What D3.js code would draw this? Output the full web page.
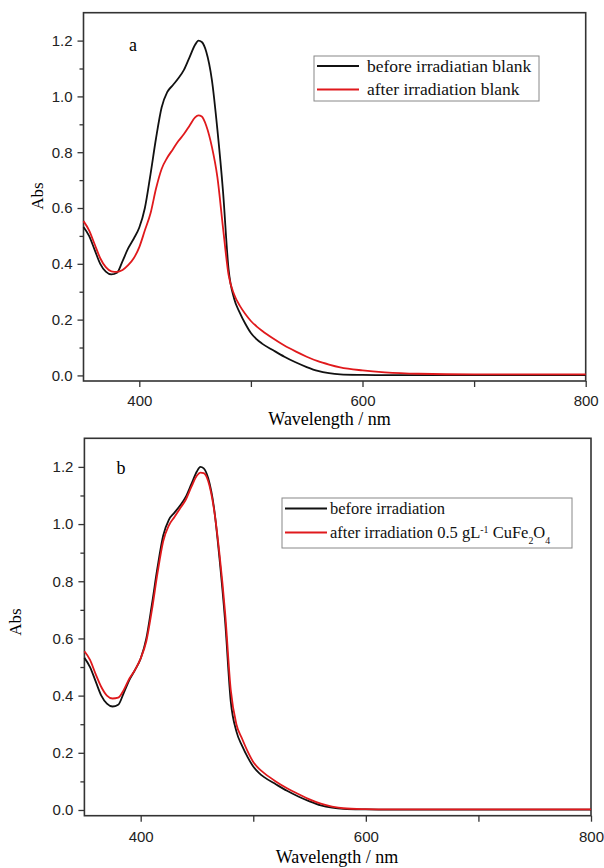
<!DOCTYPE html>
<html>
<head>
<meta charset="utf-8">
<script src="https://cdn.jsdelivr.net/npm/d3@7"></script>
<style>
  body { margin: 0; background: #fff; }
  svg { display: block; }
</style>
</head>
<body>
<svg id="chart" width="604" height="868"></svg>
<script>
// wavelength grid (nm) and absorbance
const wavelength = [350, 355, 360, 365, 370, 375, 380, 385, 390, 395, 400, 405, 410, 415, 420, 425, 430, 435, 440, 445, 450, 453, 456, 460, 465, 470, 475, 480, 485, 490, 495, 500, 505, 510, 520, 530, 540, 550, 560, 570, 580, 600, 620, 650, 700, 800];

const absBefore = [0.532, 0.50, 0.45, 0.40, 0.372, 0.362, 0.368, 0.41, 0.455, 0.49, 0.53, 0.60, 0.72, 0.85, 0.96, 1.015, 1.04, 1.065, 1.095, 1.14, 1.185, 1.20, 1.195, 1.16, 1.06, 0.88, 0.66, 0.38, 0.275, 0.225, 0.185, 0.152, 0.13, 0.114, 0.09, 0.067, 0.047, 0.03, 0.016, 0.008, 0.004, 0.002, 0.001, 0.001, 0.001, 0.001];

const absAfterBlank = [0.553, 0.52, 0.47, 0.42, 0.388, 0.373, 0.371, 0.378, 0.395, 0.42, 0.46, 0.52, 0.58, 0.67, 0.74, 0.78, 0.81, 0.84, 0.865, 0.895, 0.925, 0.932, 0.928, 0.895, 0.82, 0.71, 0.53, 0.36, 0.29, 0.25, 0.22, 0.195, 0.176, 0.16, 0.132, 0.107, 0.086, 0.067, 0.051, 0.039, 0.029, 0.018, 0.011, 0.006, 0.004, 0.004];

const absAfterCat = [0.555, 0.525, 0.475, 0.43, 0.40, 0.39, 0.393, 0.42, 0.46, 0.49, 0.53, 0.59, 0.70, 0.83, 0.94, 0.995, 1.025, 1.055, 1.085, 1.13, 1.17, 1.18, 1.178, 1.15, 1.055, 0.895, 0.69, 0.42, 0.30, 0.25, 0.205, 0.168, 0.145, 0.128, 0.10, 0.076, 0.056, 0.037, 0.022, 0.012, 0.006, 0.003, 0.002, 0.002, 0.002, 0.002];

const xMajor = [400, 600, 800];
const xMinor = [500, 700];
const yMajor = [0, 0.2, 0.4, 0.6, 0.8, 1.0, 1.2];
const yMinor = [0.1, 0.3, 0.5, 0.7, 0.9, 1.1];

const svg = d3.select("#chart");
const serif = "'Liberation Serif', 'Times New Roman', serif";
const sans = "'Liberation Sans', Arial, sans-serif";
const black = "#111";
const red = "#e0191c";

function panel(p) {
  const x = d3.scaleLinear().domain([350, 800]).range([p.left, p.right]);
  const y = d3.scaleLinear().domain([-0.02, 1.3]).range([p.bottom, p.top]);

  const g = svg.append("g");

  // minor ticks first, then major ones with labels
  g.append("g")
    .attr("transform", `translate(0,${p.bottom})`)
    .call(d3.axisBottom(x).tickValues(xMinor).tickSize(6).tickFormat(""));
  g.append("g")
    .attr("transform", `translate(0,${p.bottom})`)
    .call(d3.axisBottom(x).tickValues(xMajor).tickSize(6).tickPadding(p.xPad).tickFormat(d3.format("d")));
  g.append("g")
    .attr("transform", `translate(${p.left},0)`)
    .call(d3.axisLeft(y).tickValues(yMinor).tickSize(4).tickFormat(""));
  g.append("g")
    .attr("transform", `translate(${p.left},0)`)
    .call(d3.axisLeft(y).tickValues(yMajor).tickSize(6).tickPadding(5).tickFormat(d3.format(".1f")));

  g.selectAll(".domain").remove();
  g.selectAll(".tick line").attr("stroke", "#333").attr("stroke-width", 1.3);
  g.selectAll(".tick text")
    .attr("font-family", sans)
    .attr("font-size", 15)
    .attr("fill", "#222");

  g.append("rect")
    .attr("x", p.left).attr("y", p.top)
    .attr("width", p.right - p.left).attr("height", p.bottom - p.top)
    .attr("fill", "none").attr("stroke", "#333").attr("stroke-width", 1.6);

  const line = d3.line()
    .x((d, i) => x(wavelength[i]))
    .y(d => y(d))
    .curve(d3.curveMonotoneX);

  p.series.forEach(s => {
    g.append("path")
      .attr("d", line(s.values))
      .attr("fill", "none")
      .attr("stroke", s.color)
      .attr("stroke-width", 1.8)
      .attr("stroke-linejoin", "round");
  });

  g.append("text")
    .attr("x", p.tag[0]).attr("y", p.tag[1])
    .attr("text-anchor", "middle")
    .attr("font-family", serif).attr("font-size", 18)
    .text(p.tagText);

  g.append("text")
    .attr("x", p.xTitle[0]).attr("y", p.xTitle[1])
    .attr("text-anchor", "middle")
    .attr("font-family", serif).attr("font-size", 18)
    .text("Wavelength / nm");

  g.append("text")
    .attr("transform", `translate(${p.yTitle[0]},${p.yTitle[1]}) rotate(-90)`)
    .attr("text-anchor", "middle")
    .attr("dominant-baseline", "central")
    .attr("font-family", serif).attr("font-size", 17)
    .text("Abs");

  // legend
  const L = p.legend;
  g.append("rect")
    .attr("x", L.x).attr("y", L.y).attr("width", L.w).attr("height", L.h)
    .attr("fill", "#fff").attr("stroke", "#888").attr("stroke-width", 1);
  p.series.forEach((s, i) => {
    const ly = L.y + L.rowY[i];
    g.append("line")
      .attr("x1", L.x + 3).attr("x2", L.x + L.lineLen)
      .attr("y1", ly).attr("y2", ly)
      .attr("stroke", s.color).attr("stroke-width", 2);
    const t = g.append("text")
      .attr("x", L.x + L.textX).attr("y", ly + L.fs * 0.33)
      .attr("font-family", serif).attr("font-size", L.fs)
      .attr("fill", "#111");
    s.label.forEach(part => {
      const span = t.append("tspan").text(part.t);
      if (part.sup) span.attr("font-size", L.fs * 0.6).attr("baseline-shift", "super");
      if (part.sub) span.attr("font-size", L.fs * 0.6).attr("baseline-shift", "sub");
    });
  });
}

panel({
  left: 83.5, right: 585.7, top: 12.7, bottom: 381, xPad: 8,
  tag: [133, 51], tagText: "a",
  xTitle: [329.6, 425], yTitle: [37.5, 196],
  legend: { x: 314, y: 56, w: 225, h: 45, lineLen: 45, textX: 53, rowY: [10, 33.5], fs: 17.5 },
  series: [
    { values: absBefore, color: black, label: [{ t: "before irradiatian blank" }] },
    { values: absAfterBlank, color: red, label: [{ t: "after irradiation blank" }] }
  ]
});

panel({
  left: 84.4, right: 591, top: 438.3, bottom: 815.7, xPad: 10,
  tag: [121, 474], tagText: "b",
  xTitle: [337, 863], yTitle: [15.5, 622],
  legend: { x: 282, y: 498, w: 290, h: 50, lineLen: 45, textX: 48, rowY: [10.5, 34.5], fs: 16.5 },
  series: [
    { values: absBefore, color: black, label: [{ t: "before irradiation" }] },
    { values: absAfterCat, color: red, label: [
      { t: "after irradiation 0.5 gL" }, { t: "-1", sup: true }, { t: " CuFe" },
      { t: "2", sub: true }, { t: "O" }, { t: "4", sub: true }
    ] }
  ]
});
</script>
</body>
</html>
